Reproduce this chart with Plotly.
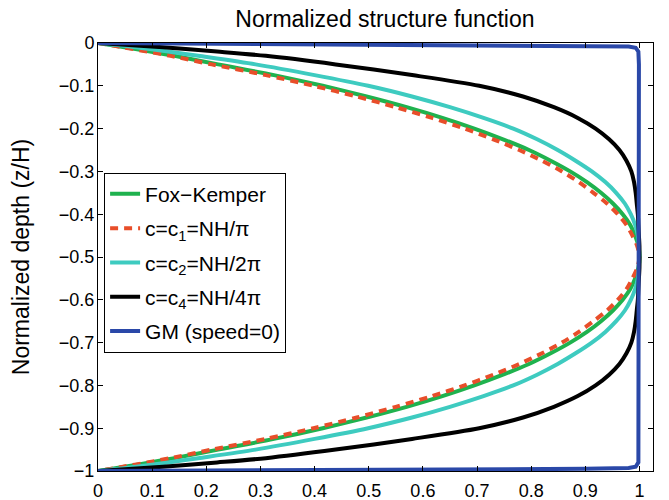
import plotly.graph_objects as go

# Normalized depth (z/H) sample points (upper half then lower half)
depth = [0, -0.01, -0.02, -0.03, -0.05, -0.075, -0.1, -0.125, -0.15, -0.175, -0.2, -0.225,
         -0.25, -0.275, -0.3, -0.325, -0.35, -0.375, -0.4, -0.425, -0.45, -0.475, -0.5,
         -0.525, -0.55, -0.575, -0.6, -0.625, -0.65, -0.675, -0.7, -0.725, -0.75, -0.775,
         -0.8, -0.825, -0.85, -0.875, -0.9, -0.925, -0.95, -0.97, -0.98, -0.99, -1.0]

fox_kemper = [0, 0.049, 0.096, 0.141, 0.222, 0.325, 0.415, 0.496, 0.57, 0.636, 0.695, 0.748,
              0.796, 0.836, 0.872, 0.903, 0.929, 0.951, 0.969, 0.983, 0.992, 0.998, 1.0,
              0.998, 0.992, 0.983, 0.969, 0.951, 0.929, 0.903, 0.872, 0.836, 0.796, 0.748,
              0.695, 0.636, 0.57, 0.496, 0.415, 0.325, 0.222, 0.141, 0.096, 0.049, 0]
c1_vals = [0, 0.046, 0.091, 0.134, 0.21, 0.31, 0.398, 0.478, 0.55, 0.617, 0.677, 0.73,
           0.778, 0.82, 0.857, 0.888, 0.915, 0.94, 0.96, 0.976, 0.987, 0.996, 1.0,
           0.996, 0.987, 0.976, 0.96, 0.94, 0.915, 0.888, 0.857, 0.82, 0.778, 0.73,
           0.677, 0.617, 0.55, 0.478, 0.398, 0.31, 0.21, 0.134, 0.091, 0.046, 0]
c2_vals = [0, 0.07, 0.13, 0.185, 0.291, 0.4, 0.499, 0.58, 0.65, 0.712, 0.767, 0.811,
           0.849, 0.882, 0.912, 0.937, 0.957, 0.973, 0.984, 0.992, 0.997, 0.999, 1.0,
           0.999, 0.997, 0.992, 0.984, 0.973, 0.957, 0.937, 0.912, 0.882, 0.849, 0.811,
           0.767, 0.712, 0.65, 0.58, 0.499, 0.4, 0.291, 0.185, 0.13, 0.07, 0]
c4_vals = [0, 0.12, 0.22, 0.31, 0.439, 0.58, 0.704, 0.785, 0.842, 0.886, 0.919, 0.944,
           0.963, 0.976, 0.985, 0.99, 0.993, 0.995, 0.997, 0.998, 0.999, 1.0, 1.0,
           1.0, 0.999, 0.998, 0.997, 0.995, 0.993, 0.99, 0.985, 0.976, 0.963, 0.944,
           0.919, 0.886, 0.842, 0.785, 0.704, 0.58, 0.439, 0.31, 0.22, 0.12, 0]

gm_x = [0, 0.5, 0.9, 0.98, 0.993, 0.998, 0.999, 0.999, 0.999, 0.998, 0.993, 0.98, 0.9, 0.5, 0]
gm_depth = [0, -0.003, -0.006, -0.008, -0.011, -0.02, -0.05, -0.5, -0.95, -0.98, -0.99, -0.993,
            -0.995, -0.997, -1.0]

names = ["Fox\u2212Kemper", "c=c<sub>1</sub>=NH/\u03c0", "c=c<sub>2</sub>=NH/2\u03c0",
         "c=c<sub>4</sub>=NH/4\u03c0", "GM (speed=0)"]
x_ticks = [0, 0.1, 0.2, 0.3, 0.4, 0.5, 0.6, 0.7, 0.8, 0.9, 1]
y_ticks = [0, -0.1, -0.2, -0.3, -0.4, -0.5, -0.6, -0.7, -0.8, -0.9, -1]

FONT = "Liberation Sans, Arial, sans-serif"

fig = go.Figure()
series = [
    (fox_kemper, depth, dict(color="#1fb24e", width=4, shape="spline", smoothing=0.8)),
    (c1_vals, depth, dict(color="#e84e2a", width=4, dash="8px,6px", shape="spline", smoothing=0.8)),
    (c2_vals, depth, dict(color="#3ecbc0", width=4, shape="spline", smoothing=0.8)),
    (c4_vals, depth, dict(color="#000000", width=4, shape="spline", smoothing=0.8)),
    (gm_x, gm_depth, dict(color="#2a48a8", width=4)),
]
for i, (xs, ys, ln) in enumerate(series):
    fig.add_trace(go.Scatter(x=xs, y=ys, mode="lines", name=names[i],
                             legendgroup=f"g{i}", line=ln))

axis_common = dict(showline=True, linecolor="black", linewidth=1, mirror="allticks",
                   ticks="inside", ticklen=5, tickcolor="black", showgrid=False,
                   zeroline=False, automargin=False,
                   tickfont=dict(family=FONT, size=18, color="black"))

fig.update_layout(
    width=669, height=500,
    margin=dict(l=98, r=16, t=43, b=29),
    paper_bgcolor="white", plot_bgcolor="white",
    font=dict(family=FONT, color="black"),
    title=dict(text="Normalized structure function", x=0.517, xanchor="center",
               xref="paper", y=0.962, yref="container", yanchor="middle",
               font=dict(family=FONT, size=23, color="black")),
    xaxis=dict(range=[0, 1.025], tickvals=x_ticks, ticktext=[f"{v:g}" for v in x_ticks],
               ticklabelstandoff=3, **axis_common),
    yaxis=dict(range=[-1, 0], tickvals=y_ticks,
               ticktext=[("\u2212" + f"{abs(v):g}") if v < 0 else f"{v:g}" for v in y_ticks],
               ticklabelstandoff=-1,
               title=dict(text="Normalized depth (z/H)", font=dict(family=FONT, size=23),
                          standoff=22),
               **axis_common),
    legend=dict(x=0.011, y=0.697, xanchor="left", yanchor="top",
                bgcolor="white", bordercolor="black", borderwidth=1,
                font=dict(family=FONT, size=21, color="black"), tracegroupgap=4),
    showlegend=True,
)

fig.write_html("out.html", config={"displayModeBar": False},
               post_script="document.body.style.margin='0px';")
